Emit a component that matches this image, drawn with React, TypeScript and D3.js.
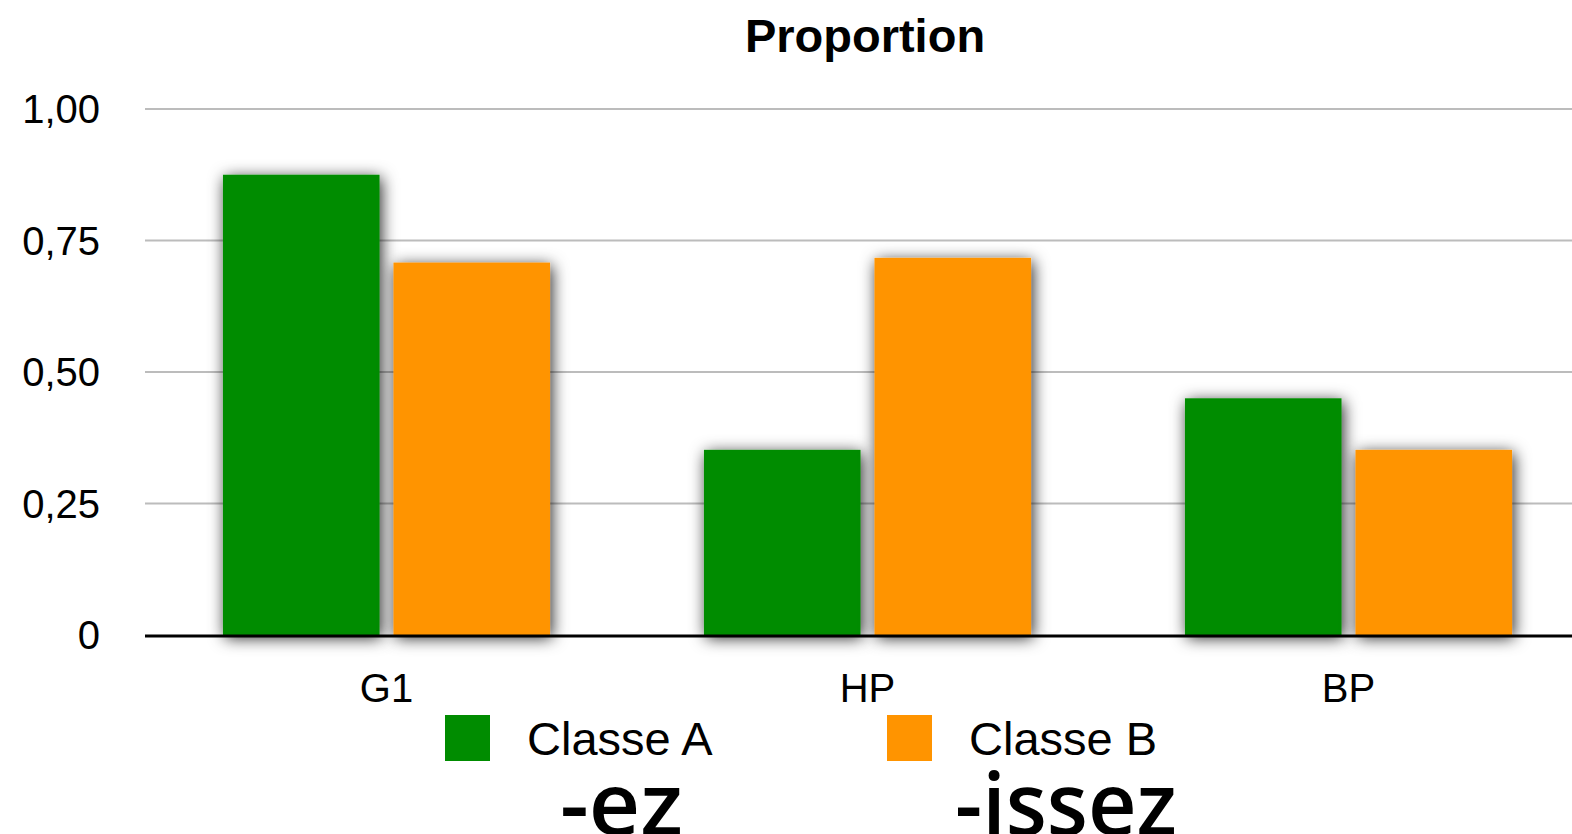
import React from 'react';
import * as d3 from 'd3';

const categories = ['G1', 'HP', 'BP'];
const seriesNames = ['Classe A', 'Classe B'];
const classeA = [0.875, 0.352, 0.45];
const classeB = [0.708, 0.717, 0.352];
const yTicks = [0, 0.25, 0.5, 0.75, 1];
const yTickLabels = ['0', '0,25', '0,50', '0,75', '1,00'];
const colors = ['#008c00', '#ff9400'];
const endings = ['-ez', '-issez'];

const W = 1572;
const H = 834;

const App: React.FC = () => {
  const x = d3.scaleBand<string>()
    .domain(categories)
    .range([146, 1589])
    .paddingInner(0.32)
    .paddingOuter(0.16);

  const xs = d3.scaleBand<string>()
    .domain(seriesNames)
    .range([0, x.bandwidth()])
    .paddingInner(0.082)
    .paddingOuter(0);

  const y = d3.scaleLinear().domain([0, 1]).range([635, 109]);

  const values = [classeA, classeB];
  const font = '"Liberation Sans", Arial, Helvetica, sans-serif';

  // legend + word endings under it
  const legendX = [445, 887];
  const endingX = [560, 955];
  const endingW = [123, 222];

  return (
    <svg
      width={W}
      height={H}
      style={{ position: 'absolute', left: 0, top: 0, background: '#fff' }}
      fontFamily={font}
    >
      <defs>
        <filter id="shadow" x="-30%" y="-30%" width="160%" height="160%">
          <feDropShadow dx="2" dy="3" stdDeviation="8" floodColor="#000" floodOpacity="0.85" />
        </filter>
      </defs>

      <text x={865} y={52} textAnchor="middle" fontSize={47} fontWeight="bold" fill="#000">
        Proportion
      </text>

      {yTicks.map((t, i) => (
        <g key={t}>
          {t > 0 && (
            <line x1={145} x2={W} y1={y(t)} y2={y(t)} stroke="#bcbcbc" strokeWidth={2} />
          )}
          <text x={100} y={y(t) + 14} textAnchor="end" fontSize={40} fill="#000">
            {yTickLabels[i]}
          </text>
        </g>
      ))}

      {categories.map((c, ci) => (
        <g key={c} transform={`translate(${x(c)},0)`}>
          {seriesNames.map((s, si) => (
            <rect
              key={s}
              x={xs(s)}
              y={y(values[si][ci])}
              width={xs.bandwidth()}
              height={y(0) - y(values[si][ci])}
              fill={colors[si]}
              filter="url(#shadow)"
            />
          ))}
        </g>
      ))}

      <line x1={145} x2={W} y1={y(0) + 1} y2={y(0) + 1} stroke="#000" strokeWidth={3} />

      {categories.map((c) => (
        <text
          key={c}
          x={(x(c) as number) + x.bandwidth() / 2}
          y={702}
          textAnchor="middle"
          fontSize={40}
          fill="#000"
        >
          {c}
        </text>
      ))}

      {seriesNames.map((s, i) => (
        <g key={s}>
          <rect x={legendX[i]} y={715} width={45} height={46} fill={colors[i]} />
          <text x={legendX[i] + 82} y={755} fontSize={47} fill="#000">
            {s}
          </text>
        </g>
      ))}

      {endings.map((e, i) => (
        <text
          key={e}
          x={endingX[i]}
          y={835}
          fontSize={87}
          fontWeight={600}
          fontFamily='"Open Sans", "DejaVu Sans", sans-serif'
          textLength={endingW[i]}
          lengthAdjust="spacingAndGlyphs"
          fill="#000"
        >
          {e}
        </text>
      ))}
    </svg>
  );
};

export default App;
